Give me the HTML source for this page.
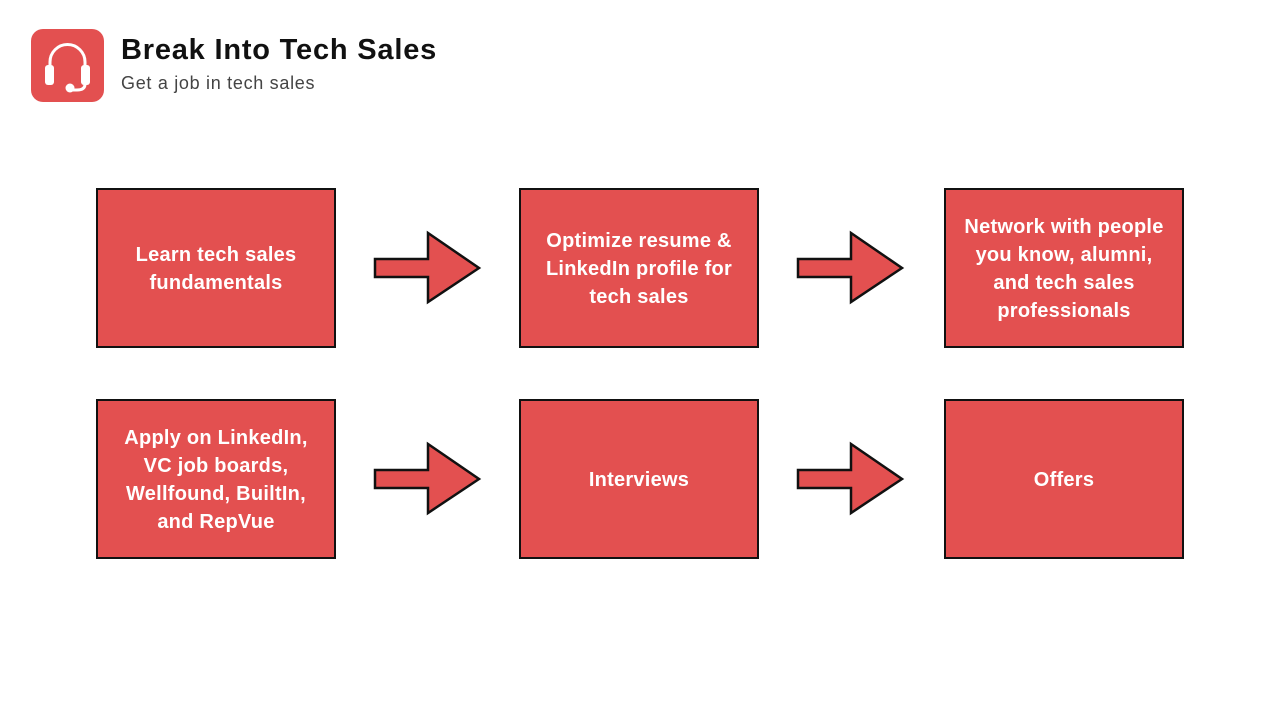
<!DOCTYPE html>
<html><head><style>
body{margin:0;width:1280px;height:720px;background:#fff;position:relative;font-family:"Liberation Sans",sans-serif;overflow:hidden}
.b{position:absolute;width:236px;background:#e35050;border:2px solid #111;display:flex;align-items:center;justify-content:center;text-align:center;color:#fff;font-weight:bold;font-size:20px;letter-spacing:0.25px;line-height:28px;box-sizing:content-box;padding-top:1px;height:155px}
.t{position:absolute;left:121px;top:34px;font-size:29px;letter-spacing:0.8px;font-weight:bold;color:#111}
.s{position:absolute;left:121px;top:73px;font-size:18px;letter-spacing:0.7px;color:#444}
</style></head><body>
<svg style="position:absolute;left:31px;top:29px" width="73" height="73" viewBox="0 0 73 73">
<rect width="73" height="73" rx="12" fill="#e35050"/>
<path d="M19 42 V33 a17.5 17.5 0 0 1 35 0 V42" fill="none" stroke="#fff" stroke-width="3"/>
<rect x="14" y="36" width="9" height="20" rx="3" fill="#fff"/>
<rect x="50" y="36" width="9" height="20" rx="3" fill="#fff"/>
<path d="M54 55 q0 6 -8 6 h-7" fill="none" stroke="#fff" stroke-width="3"/>
<circle cx="39" cy="59" r="4.5" fill="#fff"/>
</svg>
<div class="t">Break Into Tech Sales</div>
<div class="s">Get a job in tech sales</div>
<div class="b" style="left:96px;top:188px">Learn tech sales<br>fundamentals</div>
<div class="b" style="left:519px;top:188px">Optimize resume &amp;<br>LinkedIn profile for<br>tech sales</div>
<div class="b" style="left:944px;top:188px">Network with people<br>you know, alumni,<br>and tech sales<br>professionals</div>
<div class="b" style="left:96px;top:399px">Apply on LinkedIn,<br>VC job boards,<br>Wellfound, BuiltIn,<br>and RepVue</div>
<div class="b" style="left:519px;top:399px">Interviews</div>
<div class="b" style="left:944px;top:399px">Offers</div>
<svg style="position:absolute;left:0;top:0" width="1280" height="720">
<g fill="#e35050" stroke="#111" stroke-width="2.5" stroke-linejoin="miter">
<polygon points="375,259 428,259 428,233 479,268 428,302 428,277 375,277"/>
<polygon points="798,259 851,259 851,233 902,268 851,302 851,277 798,277"/>
<polygon points="375,470 428,470 428,444 479,479 428,513 428,488 375,488"/>
<polygon points="798,470 851,470 851,444 902,479 851,513 851,488 798,488"/>
</g></svg>
</body></html>
